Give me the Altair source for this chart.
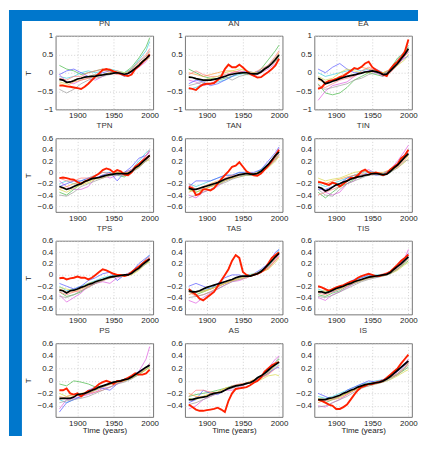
import altair as alt
import pandas as pd

# ---------------- data ----------------
PANELS = ["PN", "AN", "EA", "TPN", "TAN", "TIN", "TPS", "TAS", "TIS", "PS", "AS", "IS"]

YEARS_MAIN = [1875, 1880, 1885, 1890, 1895, 1900, 1905, 1910, 1915, 1920, 1925, 1930, 1935,
              1940, 1945, 1950, 1955, 1960, 1965, 1970, 1975, 1980, 1985, 1990, 1995, 2000]
YEARS_THIN = [1875, 1885, 1895, 1905, 1915, 1925, 1935, 1945, 1955, 1965, 1975, 1985, 1995, 2000]

X_TICKS = [1900, 1950, 2000]
Y_TICKS_ROW = [
    [-1, -0.5, 0, 0.5, 1],
    [-0.6, -0.4, -0.2, 0, 0.2, 0.4, 0.6],
    [-0.6, -0.4, -0.2, 0, 0.2, 0.4, 0.6],
    [-0.4, -0.2, 0, 0.2, 0.4, 0.6],
]
Y_DOMAIN_ROW = [[-1, 1], [-0.7, 0.6], [-0.7, 0.6], [-0.58, 0.6]]

MEAN = {
    "PN": [-0.18, -0.2, -0.26, -0.25, -0.22, -0.17, -0.15, -0.12, -0.11, -0.1, -0.09, -0.07, -0.06, -0.04, -0.03, -0.01, 0.0, -0.02, -0.04, -0.02, 0.04, 0.12, 0.2, 0.3, 0.38, 0.48],
    "AN": [-0.12, -0.13, -0.16, -0.18, -0.2, -0.2, -0.2, -0.18, -0.16, -0.13, -0.1, -0.06, -0.04, -0.02, -0.01, 0.0, 0.0, -0.02, -0.03, -0.03, 0.02, 0.1, 0.16, 0.25, 0.36, 0.48],
    "EA": [-0.15, -0.2, -0.3, -0.27, -0.23, -0.2, -0.16, -0.13, -0.1, -0.08, -0.06, -0.03, -0.01, 0.02, 0.03, 0.05, 0.03, 0.0, -0.05, -0.04, 0.05, 0.15, 0.25, 0.38, 0.5, 0.65],
    "TPN": [-0.25, -0.27, -0.3, -0.28, -0.25, -0.22, -0.2, -0.16, -0.14, -0.11, -0.1, -0.09, -0.07, -0.05, -0.04, -0.03, -0.02, -0.02, -0.02, -0.02, 0.02, 0.08, 0.12, 0.18, 0.24, 0.3],
    "TAN": [-0.28, -0.3, -0.3, -0.28, -0.26, -0.24, -0.22, -0.2, -0.18, -0.15, -0.12, -0.1, -0.08, -0.06, -0.04, -0.03, -0.02, -0.03, -0.03, -0.02, 0.02, 0.08, 0.14, 0.22, 0.3, 0.36],
    "TIN": [-0.26, -0.28, -0.33, -0.3, -0.26, -0.22, -0.2, -0.17, -0.15, -0.12, -0.1, -0.08, -0.07, -0.05, -0.04, -0.02, -0.02, -0.03, -0.04, -0.03, 0.02, 0.08, 0.13, 0.2, 0.27, 0.33],
    "TPS": [-0.27, -0.28, -0.32, -0.28, -0.27, -0.25, -0.22, -0.2, -0.17, -0.15, -0.12, -0.1, -0.08, -0.06, -0.04, -0.03, -0.02, -0.01, 0.0, 0.0, 0.03, 0.08, 0.12, 0.18, 0.23, 0.28],
    "TAS": [-0.28, -0.3, -0.3, -0.28, -0.25, -0.22, -0.2, -0.18, -0.16, -0.14, -0.12, -0.1, -0.08, -0.05, -0.03, -0.02, -0.02, -0.02, 0.0, 0.02, 0.06, 0.12, 0.18, 0.25, 0.32, 0.38],
    "TIS": [-0.3, -0.3, -0.32, -0.3, -0.27, -0.24, -0.22, -0.2, -0.17, -0.15, -0.12, -0.1, -0.08, -0.06, -0.04, -0.03, -0.02, -0.01, 0.0, 0.01, 0.04, 0.1, 0.15, 0.2, 0.26, 0.32],
    "PS": [-0.28, -0.28, -0.28, -0.28, -0.26, -0.22, -0.21, -0.2, -0.18, -0.15, -0.13, -0.1, -0.08, -0.06, -0.04, -0.02, -0.01, 0.0, 0.02, 0.03, 0.06, 0.1, 0.14, 0.18, 0.22, 0.25],
    "AS": [-0.3, -0.3, -0.28, -0.27, -0.26, -0.25, -0.22, -0.2, -0.19, -0.18, -0.15, -0.12, -0.1, -0.08, -0.07, -0.06, -0.04, -0.03, 0.0, 0.05, 0.08, 0.12, 0.17, 0.22, 0.26, 0.3],
    "IS": [-0.3, -0.3, -0.3, -0.28, -0.27, -0.25, -0.23, -0.2, -0.18, -0.15, -0.13, -0.1, -0.08, -0.06, -0.05, -0.04, -0.03, -0.02, 0.0, 0.03, 0.07, 0.12, 0.17, 0.22, 0.27, 0.32],
}

OBS = {
    "PN": [-0.35, -0.35, -0.37, -0.38, -0.4, -0.42, -0.44, -0.38, -0.3, -0.2, -0.1, -0.02, 0.08, 0.1, 0.08, 0.04, 0.0, -0.03, -0.07, -0.09, -0.05, 0.1, 0.18, 0.28, 0.38, 0.5],
    "AN": [-0.42, -0.44, -0.47, -0.38, -0.32, -0.3, -0.3, -0.28, -0.2, -0.1, 0.1, 0.22, 0.15, 0.15, 0.22, 0.14, 0.05, -0.03, -0.08, -0.13, -0.12, -0.05, 0.02, 0.1, 0.2, 0.38],
    "EA": [-0.44, -0.4, -0.28, -0.22, -0.2, -0.17, -0.12, -0.09, -0.02, 0.05, 0.13, 0.1, 0.16, 0.25, 0.3, 0.15, 0.08, 0.02, -0.05, -0.09, 0.1, 0.22, 0.3, 0.42, 0.57, 0.9],
    "TPN": [-0.1, -0.09, -0.1, -0.12, -0.13, -0.17, -0.2, -0.16, -0.13, -0.1, -0.06, -0.02, 0.04, 0.07, 0.05, 0.0, 0.04, 0.02, -0.04, -0.05, 0.0, 0.1, 0.15, 0.2, 0.25, 0.3],
    "TAN": [-0.25, -0.28, -0.4, -0.38, -0.3, -0.3, -0.32, -0.28, -0.2, -0.12, -0.05, 0.02, 0.1, 0.12, 0.18, 0.1, 0.02, -0.02, -0.05, -0.06, -0.02, 0.05, 0.12, 0.2, 0.3, 0.4],
    "TIN": [-0.17, -0.18, -0.2, -0.22, -0.18, -0.2, -0.25, -0.2, -0.15, -0.1, -0.1, -0.05, 0.02, 0.05, 0.0, -0.02, 0.0, -0.02, -0.05, -0.02, 0.05, 0.1, 0.15, 0.25, 0.3, 0.4],
    "TPS": [-0.06, -0.05, -0.08, -0.06, -0.05, -0.03, -0.05, -0.05, -0.08, -0.05, 0.0, 0.05, 0.1, 0.08, 0.05, 0.02, 0.0, 0.0, -0.02, 0.0, 0.05, 0.1, 0.15, 0.2, 0.25, 0.28],
    "TAS": [-0.25, -0.3, -0.35, -0.42, -0.45, -0.4, -0.35, -0.3, -0.2, -0.1, 0.0, 0.1, 0.25, 0.35, 0.3, 0.05, 0.0, -0.02, 0.0, 0.02, 0.05, 0.1, 0.2, 0.3, 0.35, 0.4],
    "TIS": [-0.2, -0.22, -0.25, -0.28, -0.25, -0.22, -0.2, -0.18, -0.15, -0.12, -0.1, -0.05, -0.02, 0.0, 0.02, 0.0, -0.02, -0.02, 0.0, 0.02, 0.06, 0.12, 0.18, 0.25, 0.3, 0.36],
    "PS": [-0.15, -0.15, -0.12, -0.2, -0.22, -0.2, -0.25, -0.2, -0.16, -0.15, -0.1, -0.05, -0.02, 0.0, -0.02, -0.05, 0.0, 0.0, 0.02, 0.05, 0.08, 0.12, 0.1, 0.1, 0.12, 0.18],
    "AS": [-0.38, -0.42, -0.46, -0.48, -0.48, -0.47, -0.46, -0.45, -0.43, -0.46, -0.5, -0.32, -0.2, -0.13, -0.12, -0.11, -0.1, -0.07, -0.03, 0.0, 0.05, 0.15, 0.2, 0.25, 0.28, 0.3],
    "IS": [-0.3, -0.32, -0.35, -0.38, -0.4, -0.45, -0.45, -0.42, -0.38, -0.3, -0.22, -0.15, -0.1, -0.08, -0.05, -0.05, -0.03, -0.02, 0.0, 0.05, 0.1, 0.15, 0.2, 0.28, 0.35, 0.42],
}

MODELS = {
    "PN": [
        [0.2, 0.1, 0.05, -0.05, 0.0, 0.05, 0.1, 0.05, 0.0, 0.0, 0.15, 0.4, 0.7, 0.95],
        [-0.1, -0.15, -0.1, 0.0, 0.05, 0.0, 0.05, 0.1, 0.05, 0.0, 0.1, 0.35, 0.6, 0.85],
        [-0.05, -0.25, -0.3, -0.2, -0.15, -0.2, -0.1, 0.0, 0.05, -0.05, 0.0, 0.15, 0.3, 0.45],
        [-0.05, 0.05, 0.1, 0.0, -0.1, -0.05, 0.0, 0.05, 0.0, -0.1, 0.05, 0.2, 0.4, 0.5],
        [-0.3, -0.35, -0.25, -0.2, -0.15, -0.1, 0.05, 0.1, 0.0, -0.05, 0.05, 0.25, 0.4, 0.55],
        [-0.15, -0.2, -0.1, -0.1, 0.0, 0.05, 0.1, 0.0, -0.05, -0.05, 0.1, 0.3, 0.5, 0.65],
        [-0.25, -0.3, -0.2, -0.15, -0.1, -0.05, -0.05, 0.0, 0.05, 0.0, 0.05, 0.2, 0.35, 0.4],
        [-0.45, -0.55, -0.45, -0.3, -0.2, -0.15, -0.1, -0.05, 0.0, -0.05, 0.1, 0.3, 0.45, 0.6],
    ],
    "AN": [
        [0.1, 0.0, -0.1, -0.15, -0.2, -0.15, -0.1, 0.0, -0.05, -0.05, 0.1, 0.35, 0.6, 0.75],
        [-0.45, -0.4, -0.3, -0.3, -0.25, -0.2, -0.1, -0.05, 0.0, 0.0, 0.05, 0.2, 0.4, 0.5],
        [-0.2, -0.25, -0.35, -0.3, -0.2, -0.1, 0.0, 0.05, 0.0, -0.1, 0.0, 0.1, 0.25, 0.35],
        [-0.3, -0.2, -0.25, -0.35, -0.3, -0.2, -0.1, 0.0, 0.05, 0.0, 0.05, 0.15, 0.3, 0.4],
        [0.0, -0.05, -0.1, -0.05, 0.0, 0.05, 0.05, 0.0, 0.0, -0.05, 0.05, 0.2, 0.4, 0.55],
        [-0.05, 0.05, -0.05, -0.1, -0.1, -0.05, 0.0, 0.05, 0.0, 0.0, 0.1, 0.2, 0.45, 0.6],
        [-0.1, -0.15, -0.2, -0.15, -0.1, 0.0, 0.05, 0.1, 0.05, 0.0, 0.0, 0.15, 0.3, 0.45],
        [-0.35, -0.3, -0.25, -0.2, -0.15, -0.1, -0.2, -0.1, -0.05, -0.05, 0.05, 0.2, 0.35, 0.5],
    ],
    "EA": [
        [-0.3, -0.55, -0.6, -0.55, -0.4, -0.2, -0.1, 0.0, -0.05, -0.1, 0.1, 0.4, 0.55, 0.7],
        [0.0, -0.1, -0.05, 0.0, 0.05, 0.1, 0.05, 0.1, 0.0, -0.05, 0.1, 0.3, 0.5, 0.55],
        [-0.75, -0.5, -0.35, -0.3, -0.25, -0.1, 0.0, 0.05, 0.0, -0.1, 0.05, 0.2, 0.45, 0.6],
        [0.1, 0.0, 0.15, 0.25, 0.1, 0.0, 0.0, 0.05, 0.1, 0.0, 0.05, 0.25, 0.4, 0.45],
        [-0.2, -0.25, -0.2, -0.1, 0.0, 0.1, 0.15, 0.1, 0.05, 0.0, 0.1, 0.3, 0.5, 0.6],
        [-0.35, -0.4, -0.3, -0.2, -0.15, -0.1, 0.05, 0.15, 0.05, -0.05, 0.0, 0.2, 0.45, 0.55],
        [-0.1, -0.2, -0.15, 0.0, 0.1, 0.05, 0.0, 0.0, 0.05, 0.0, 0.05, 0.2, 0.35, 0.5],
        [-0.4, -0.45, -0.4, -0.35, -0.3, -0.2, -0.15, -0.05, 0.0, -0.05, 0.1, 0.35, 0.6, 0.75],
    ],
    "TPN": [
        [-0.35, -0.4, -0.3, -0.2, -0.15, -0.1, -0.05, -0.05, -0.05, -0.08, 0.0, 0.1, 0.25, 0.3],
        [-0.2, -0.15, -0.2, -0.15, -0.1, -0.05, 0.0, 0.0, -0.05, 0.0, 0.05, 0.2, 0.35, 0.4],
        [-0.15, -0.25, -0.3, -0.3, -0.25, -0.1, -0.05, -0.1, -0.05, 0.0, 0.05, 0.15, 0.3, 0.35],
        [-0.25, -0.2, -0.15, -0.15, -0.1, -0.1, -0.05, 0.0, -0.15, 0.0, 0.1, 0.25, 0.3, 0.38],
        [-0.3, -0.25, -0.2, -0.2, -0.15, -0.1, -0.1, -0.05, 0.0, 0.0, 0.0, 0.1, 0.2, 0.25],
        [-0.1, -0.15, -0.15, -0.1, -0.1, -0.05, 0.0, -0.02, 0.0, -0.05, 0.05, 0.15, 0.3, 0.4],
        [-0.3, -0.35, -0.28, -0.22, -0.18, -0.12, -0.08, -0.05, 0.0, -0.02, 0.02, 0.1, 0.2, 0.22],
        [-0.4, -0.42, -0.35, -0.25, -0.2, -0.15, -0.1, -0.06, -0.04, -0.06, 0.0, 0.08, 0.2, 0.25],
    ],
    "TAN": [
        [-0.3, -0.35, -0.3, -0.25, -0.2, -0.15, -0.1, -0.05, -0.05, -0.05, 0.05, 0.12, 0.25, 0.38],
        [-0.2, -0.25, -0.2, -0.15, -0.1, -0.05, -0.05, 0.0, 0.0, -0.02, 0.05, 0.15, 0.3, 0.35],
        [-0.4, -0.45, -0.35, -0.3, -0.25, -0.15, -0.1, -0.05, -0.02, -0.05, 0.0, 0.1, 0.3, 0.42],
        [-0.25, -0.15, -0.15, -0.15, -0.1, -0.05, -0.05, 0.0, 0.0, 0.0, 0.05, 0.2, 0.35, 0.45],
        [-0.35, -0.3, -0.25, -0.2, -0.15, -0.12, -0.1, -0.05, 0.0, -0.02, 0.02, 0.1, 0.22, 0.3],
        [-0.2, -0.3, -0.3, -0.25, -0.2, -0.1, -0.05, -0.05, -0.02, -0.05, 0.0, 0.1, 0.25, 0.32],
        [-0.3, -0.35, -0.3, -0.25, -0.22, -0.15, -0.1, -0.08, -0.05, -0.04, 0.0, 0.08, 0.2, 0.28],
        [-0.45, -0.4, -0.35, -0.3, -0.22, -0.18, -0.12, -0.08, -0.05, -0.05, 0.0, 0.1, 0.22, 0.32],
    ],
    "TIN": [
        [-0.35, -0.45, -0.35, -0.25, -0.2, -0.12, -0.05, -0.05, 0.0, -0.05, 0.0, 0.12, 0.25, 0.3],
        [-0.2, -0.25, -0.2, -0.15, -0.1, -0.05, 0.0, 0.02, 0.0, -0.02, 0.05, 0.15, 0.3, 0.4],
        [-0.25, -0.35, -0.4, -0.35, -0.2, -0.15, 0.0, 0.05, -0.02, -0.05, 0.05, 0.2, 0.38, 0.48],
        [-0.3, -0.3, -0.25, -0.2, -0.1, -0.05, -0.05, 0.0, -0.05, -0.03, 0.05, 0.15, 0.32, 0.4],
        [-0.15, -0.2, -0.15, -0.12, -0.08, -0.05, -0.02, -0.05, 0.0, 0.0, 0.05, 0.1, 0.22, 0.3],
        [-0.4, -0.35, -0.3, -0.25, -0.15, -0.1, -0.05, -0.03, -0.02, -0.05, 0.02, 0.1, 0.25, 0.35],
        [-0.1, -0.15, -0.12, -0.1, -0.05, 0.0, 0.02, 0.0, 0.0, -0.03, 0.02, 0.08, 0.18, 0.25],
        [-0.3, -0.4, -0.42, -0.3, -0.2, -0.15, -0.1, -0.05, -0.04, -0.06, 0.0, 0.08, 0.2, 0.22],
    ],
    "TPS": [
        [-0.3, -0.38, -0.35, -0.3, -0.2, -0.15, -0.08, -0.03, 0.0, 0.0, 0.02, 0.1, 0.2, 0.25],
        [-0.2, -0.28, -0.25, -0.2, -0.15, -0.1, -0.05, -0.02, 0.0, 0.0, 0.05, 0.15, 0.28, 0.35],
        [-0.35, -0.48, -0.4, -0.32, -0.2, -0.15, -0.12, -0.15, -0.05, -0.02, 0.02, 0.12, 0.25, 0.3],
        [-0.15, -0.2, -0.25, -0.2, -0.1, -0.05, 0.02, 0.05, -0.1, 0.0, 0.05, 0.2, 0.3, 0.35],
        [-0.25, -0.3, -0.3, -0.25, -0.2, -0.12, -0.08, -0.05, -0.03, -0.02, 0.02, 0.1, 0.22, 0.28],
        [-0.3, -0.35, -0.3, -0.28, -0.22, -0.15, -0.1, -0.06, -0.02, 0.0, 0.05, 0.12, 0.28, 0.32],
        [-0.22, -0.25, -0.28, -0.22, -0.15, -0.12, -0.1, -0.05, -0.02, -0.02, 0.0, 0.08, 0.2, 0.22],
        [-0.38, -0.4, -0.35, -0.28, -0.22, -0.15, -0.1, -0.05, -0.03, -0.01, 0.02, 0.1, 0.2, 0.28],
    ],
    "TAS": [
        [-0.3, -0.35, -0.3, -0.25, -0.2, -0.15, -0.1, -0.05, -0.02, 0.0, 0.08, 0.15, 0.3, 0.4],
        [-0.25, -0.3, -0.28, -0.22, -0.2, -0.12, -0.08, -0.05, 0.0, 0.02, 0.05, 0.15, 0.35, 0.45],
        [-0.45, -0.5, -0.4, -0.32, -0.25, -0.18, -0.12, -0.1, -0.05, 0.0, 0.05, 0.12, 0.25, 0.35],
        [-0.2, -0.15, -0.2, -0.25, -0.15, -0.05, 0.0, 0.0, -0.05, 0.02, 0.1, 0.2, 0.4, 0.45],
        [-0.35, -0.3, -0.28, -0.25, -0.2, -0.15, -0.1, -0.08, -0.05, 0.0, 0.05, 0.12, 0.25, 0.32],
        [-0.3, -0.38, -0.35, -0.3, -0.22, -0.15, -0.1, -0.05, -0.03, 0.0, 0.05, 0.1, 0.28, 0.38],
        [-0.28, -0.3, -0.3, -0.25, -0.2, -0.15, -0.1, -0.06, -0.03, 0.02, 0.05, 0.1, 0.22, 0.3],
        [-0.4, -0.38, -0.35, -0.3, -0.25, -0.18, -0.12, -0.08, -0.04, 0.0, 0.06, 0.14, 0.3, 0.38],
    ],
    "TIS": [
        [-0.35, -0.38, -0.32, -0.28, -0.2, -0.15, -0.1, -0.05, -0.02, 0.0, 0.03, 0.1, 0.2, 0.25],
        [-0.25, -0.3, -0.28, -0.22, -0.15, -0.1, -0.05, -0.02, 0.0, 0.0, 0.05, 0.12, 0.25, 0.32],
        [-0.4, -0.45, -0.35, -0.3, -0.22, -0.15, -0.1, -0.06, -0.03, 0.0, 0.06, 0.15, 0.3, 0.45],
        [-0.2, -0.25, -0.3, -0.25, -0.15, -0.08, -0.05, 0.0, -0.05, 0.0, 0.05, 0.15, 0.3, 0.38],
        [-0.3, -0.28, -0.25, -0.22, -0.18, -0.12, -0.08, -0.05, -0.02, 0.0, 0.04, 0.1, 0.22, 0.28],
        [-0.32, -0.35, -0.3, -0.25, -0.2, -0.12, -0.08, -0.04, -0.02, 0.02, 0.06, 0.12, 0.25, 0.35],
        [-0.28, -0.3, -0.28, -0.25, -0.18, -0.14, -0.1, -0.06, -0.04, -0.02, 0.02, 0.08, 0.18, 0.22],
        [-0.38, -0.4, -0.36, -0.3, -0.24, -0.18, -0.12, -0.08, -0.05, -0.02, 0.02, 0.1, 0.22, 0.3],
    ],
    "PS": [
        [-0.05, -0.08, 0.0, -0.02, -0.05, -0.1, -0.08, -0.05, -0.02, 0.0, 0.05, 0.1, 0.18, 0.22],
        [-0.3, -0.35, -0.3, -0.25, -0.2, -0.15, -0.1, -0.05, 0.0, 0.02, 0.05, 0.12, 0.2, 0.25],
        [-0.45, -0.3, -0.28, -0.25, -0.22, -0.18, -0.12, -0.1, -0.05, 0.0, 0.05, 0.15, 0.35, 0.55],
        [-0.5, -0.35, -0.3, -0.25, -0.15, -0.1, -0.12, -0.15, -0.05, 0.02, 0.08, 0.15, 0.22, 0.28],
        [-0.25, -0.28, -0.25, -0.22, -0.2, -0.15, -0.1, -0.06, -0.03, 0.0, 0.05, 0.1, 0.2, 0.26],
        [-0.3, -0.25, -0.22, -0.25, -0.2, -0.18, -0.15, -0.1, -0.04, 0.0, 0.06, 0.12, 0.2, 0.28],
        [-0.2, -0.25, -0.22, -0.2, -0.18, -0.12, -0.08, -0.05, -0.02, 0.0, 0.04, 0.1, 0.18, 0.22],
        [-0.35, -0.32, -0.3, -0.28, -0.25, -0.2, -0.15, -0.1, -0.05, -0.02, 0.03, 0.1, 0.22, 0.25],
    ],
    "AS": [
        [-0.25, -0.22, -0.2, -0.18, -0.15, -0.12, -0.08, -0.06, -0.04, 0.0, 0.08, 0.15, 0.28, 0.35],
        [-0.3, -0.28, -0.25, -0.22, -0.2, -0.15, -0.1, -0.08, -0.05, 0.0, 0.05, 0.12, 0.22, 0.28],
        [-0.45, -0.4, -0.3, -0.25, -0.2, -0.15, -0.15, -0.1, -0.05, -0.02, 0.08, 0.2, 0.35, 0.4],
        [-0.35, -0.3, -0.15, -0.2, -0.22, -0.15, -0.1, -0.08, -0.05, 0.0, 0.05, 0.12, 0.2, 0.22],
        [-0.2, -0.25, -0.25, -0.2, -0.18, -0.12, -0.1, -0.06, -0.03, 0.02, 0.06, 0.12, 0.25, 0.3],
        [-0.25, -0.15, -0.15, -0.18, -0.2, -0.15, -0.08, -0.05, -0.04, -0.02, 0.05, 0.1, 0.2, 0.25],
        [-0.28, -0.3, -0.25, -0.22, -0.18, -0.12, -0.1, -0.08, -0.05, -0.02, 0.02, 0.08, 0.1, 0.08],
        [-0.38, -0.35, -0.3, -0.25, -0.2, -0.15, -0.12, -0.08, -0.04, 0.0, 0.06, 0.14, 0.3, 0.38],
    ],
    "IS": [
        [-0.3, -0.35, -0.3, -0.25, -0.2, -0.15, -0.1, -0.05, -0.02, 0.0, 0.05, 0.1, 0.18, 0.22],
        [-0.25, -0.28, -0.25, -0.2, -0.15, -0.1, -0.05, -0.03, 0.0, 0.02, 0.05, 0.12, 0.22, 0.28],
        [-0.4, -0.42, -0.35, -0.3, -0.22, -0.15, -0.1, -0.08, -0.04, 0.0, 0.06, 0.15, 0.28, 0.35],
        [-0.2, -0.25, -0.3, -0.25, -0.15, -0.1, -0.05, 0.0, -0.02, 0.02, 0.08, 0.15, 0.25, 0.3],
        [-0.35, -0.3, -0.28, -0.25, -0.2, -0.15, -0.1, -0.06, -0.03, 0.0, 0.05, 0.1, 0.2, 0.28],
        [-0.3, -0.32, -0.3, -0.28, -0.22, -0.15, -0.08, -0.05, -0.02, 0.02, 0.06, 0.12, 0.22, 0.3],
        [-0.28, -0.3, -0.3, -0.26, -0.2, -0.15, -0.1, -0.08, -0.05, -0.02, 0.02, 0.08, 0.15, 0.18],
        [-0.42, -0.4, -0.35, -0.3, -0.25, -0.18, -0.12, -0.08, -0.05, -0.02, 0.03, 0.1, 0.2, 0.25],
    ],
}

THIN_NAMES = ["m1", "m2", "m3", "m4", "m5", "m6", "m7", "m8"]
THIN_COLORS = ["#4cbb4c", "#40d0e0", "#e060e0", "#5a5aff", "#ffa040", "#ff8080", "#d8d850", "#a0a0a0"]

# ---------------- style ----------------
FONT = "Liberation Sans"
BLUE = "#0077cc"
W, H = 98, 74
COL_GAP, ROW_GAP = 32, 29
FRAME_TOP = -26      # blue window frame, relative to the first plot box
FRAME_LEFT = -47
FRAME_RIGHT = 3 * W + 2 * COL_GAP + 6
FRAME_BOTTOM = 4 * H + 3 * ROW_GAP + 19


def panel(idx, name):
    r, c = divmod(idx, 3)
    rows = []
    for k, series in enumerate(MODELS[name]):
        for yr, v in zip(YEARS_THIN, series):
            rows.append({"year": yr, "T": v, "series": THIN_NAMES[k]})
    thin_df = pd.DataFrame(rows)
    main_df = pd.DataFrame({"year": YEARS_MAIN, "mean": MEAN[name], "obs": OBS[name]})

    x = alt.X("year:Q",
              scale=alt.Scale(domain=[1870, 2005], nice=False, zero=False),
              axis=alt.Axis(values=X_TICKS, format="d",
                            title="Time (years)" if r == 3 else None))
    yaxis = alt.Axis(values=Y_TICKS_ROW[r], format="~g",
                     title="T" if c == 0 else None)
    yscale = alt.Scale(domain=Y_DOMAIN_ROW[r], nice=False, zero=False)

    thin = alt.Chart(thin_df).mark_line(strokeWidth=0.8, opacity=0.9).encode(
        x=x,
        y=alt.Y("T:Q", scale=yscale, axis=yaxis),
        color=alt.Color("series:N", scale=alt.Scale(domain=THIN_NAMES, range=THIN_COLORS), legend=None),
        detail="series:N",
    )
    red = alt.Chart(main_df).mark_line(color="#ff2000", strokeWidth=1.9).encode(
        x=x, y=alt.Y("obs:Q", scale=yscale, axis=yaxis))
    black = alt.Chart(main_df).mark_line(color="#000000", strokeWidth=1.7).encode(
        x=x, y=alt.Y("mean:Q", scale=yscale, axis=yaxis))

    layers = [thin, red, black]
    title_dy = 0
    if idx == 0:
        one = pd.DataFrame({"k": [0]})
        bands = [
            (FRAME_LEFT, FRAME_RIGHT, FRAME_TOP, FRAME_TOP + 11),
            (FRAME_LEFT, FRAME_LEFT + 13, FRAME_TOP, FRAME_BOTTOM),
        ]
        for x0, x1, y0, y1 in bands:
            layers.insert(0, alt.Chart(one).mark_rect(color=BLUE).encode(
                x=alt.value(x0), x2=alt.value(x1), y=alt.value(y0), y2=alt.value(y1)))
        title_dy = 22

    return alt.layer(*layers).properties(
        width=W, height=H,
        title=alt.TitleParams(text=name, fontSize=8, fontWeight="normal", font=FONT,
                              color="#333333", offset=4, dy=title_dy),
    )


charts = [panel(i, n) for i, n in enumerate(PANELS)]

chart = alt.concat(*charts, columns=3, spacing={"row": ROW_GAP, "column": COL_GAP},
                   bounds="flush").properties(
    padding=0, background="white"
).configure_view(
    stroke="#555555", strokeWidth=0.8
).configure_axis(
    domain=False, ticks=False,
    grid=True, gridColor="#c8c8c8", gridDash=[1, 2], gridWidth=0.8,
    labelFont=FONT, labelFontSize=8, labelColor="#222222", labelPadding=3,
    titleFont=FONT, titleFontSize=8, titleFontWeight="normal", titleColor="#222222",
).configure_axisY(
    titlePadding=5
).configure_axisX(
    labelPadding=2, titlePadding=0
)

chart.save("out.html", embed_options={"renderer": "svg", "actions": False})
